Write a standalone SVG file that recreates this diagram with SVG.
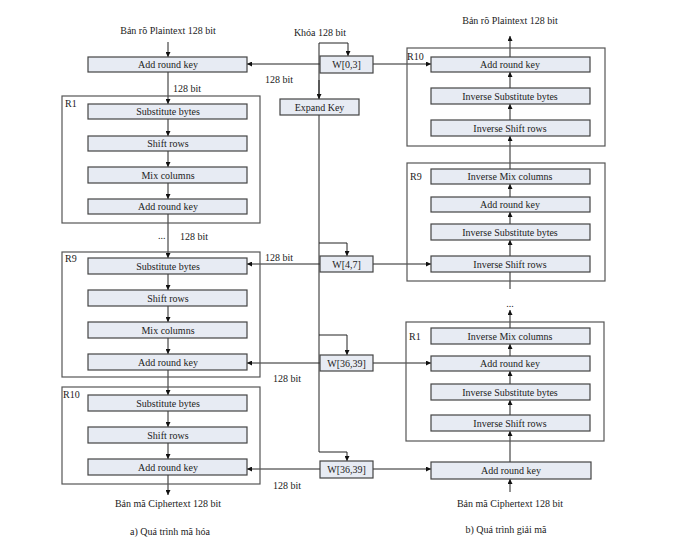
<svg xmlns="http://www.w3.org/2000/svg" width="698" height="546" viewBox="0 0 698 546">
<defs>
<marker id="ah" viewBox="0 0 10 10" refX="10" refY="5" markerWidth="5" markerHeight="5" markerUnits="userSpaceOnUse" orient="auto">
<path d="M0,0 L10,5 L0,10 z" fill="#111"/>
</marker>
</defs>
<style>
.bg{fill:#ffffff}
.box{fill:#e7ebf3;stroke:#444;stroke-width:1.2}
.cont{fill:none;stroke:#555;stroke-width:1.2}
.t{font-family:"Liberation Serif","Times New Roman",serif;font-size:10px;fill:#222;text-anchor:middle;dominant-baseline:central}
.l{font-family:"Liberation Serif","Times New Roman",serif;font-size:10px;fill:#222;dominant-baseline:central}
.c{fill:none;stroke:#222;stroke-width:1}
.a{fill:none;stroke:#222;stroke-width:1;marker-end:url(#ah)}
</style>
<rect class="bg" x="0" y="0" width="698" height="546"/>

<!-- Labels -->
<text class="t" x="168" y="30">Bản rõ Plaintext 128 bit</text>
<text class="t" x="320" y="32">Khóa 128 bit</text>
<text class="t" x="510" y="20">Bản rõ Plaintext 128 bit</text>
<text class="t" x="168" y="503">Bản mã Ciphertext 128 bit</text>
<text class="t" x="510" y="503">Bản mã Ciphertext 128 bit</text>
<text class="t" x="170" y="531">a) Quá trình mã hóa</text>
<text class="t" x="506" y="529">b) Quá trình giải mã</text>
<text class="l" x="265" y="79">128 bit</text>
<text class="l" x="173" y="88">128 bit</text>
<text class="l" x="158" y="235">...</text>
<text class="l" x="180" y="236">128 bit</text>
<text class="l" x="265" y="257">128 bit</text>
<text class="l" x="273" y="378">128 bit</text>
<text class="l" x="273" y="485">128 bit</text>
<text class="t" x="510" y="303">...</text>

<!-- Connectors -->
<g id="connectors">
<!-- encryption chain -->
<line class="a" x1="168" y1="42" x2="168" y2="57"/>
<line class="a" x1="168" y1="72" x2="168" y2="104"/>
<line class="a" x1="168" y1="119" x2="168" y2="136"/>
<line class="a" x1="168" y1="151" x2="168" y2="167"/>
<line class="a" x1="168" y1="183" x2="168" y2="199"/>
<line class="a" x1="168" y1="214" x2="168" y2="258"/>
<line class="a" x1="168" y1="274" x2="168" y2="290"/>
<line class="a" x1="168" y1="306" x2="168" y2="322"/>
<line class="a" x1="168" y1="338" x2="168" y2="354"/>
<line class="a" x1="168" y1="370" x2="168" y2="395"/>
<line class="a" x1="168" y1="411" x2="168" y2="427"/>
<line class="a" x1="168" y1="443" x2="168" y2="459"/>
<line class="a" x1="168" y1="475" x2="168" y2="495"/>
<!-- key trunk -->
<polyline class="c" points="319,43 319,452 347,452"/>
<line class="a" x1="347" y1="452" x2="347" y2="461"/>
<polyline class="c" points="319,43 348,43"/>
<line class="a" x1="348" y1="43" x2="348" y2="56"/>
<line class="a" x1="319" y1="80" x2="319" y2="99"/>
<polyline class="c" points="319,243 347,243"/>
<line class="a" x1="347" y1="243" x2="347" y2="256"/>
<polyline class="c" points="319,335 347,335"/>
<line class="a" x1="347" y1="335" x2="347" y2="355"/>
<!-- key to rounds -->
<line class="a" x1="320" y1="64" x2="247" y2="64"/>
<line class="a" x1="373" y1="64" x2="431" y2="64"/>
<line class="a" x1="320" y1="264" x2="247" y2="264"/>
<line class="a" x1="373" y1="264" x2="431" y2="264"/>
<line class="a" x1="320" y1="363" x2="247" y2="363"/>
<line class="a" x1="373" y1="363" x2="431" y2="363"/>
<line class="a" x1="320" y1="469" x2="247" y2="469"/>
<line class="a" x1="373" y1="469" x2="431" y2="469"/>
<!-- decryption chain -->
<line class="a" x1="510" y1="57" x2="510" y2="36"/>
<line class="a" x1="510" y1="88" x2="510" y2="72"/>
<line class="a" x1="510" y1="120" x2="510" y2="104"/>
<line class="a" x1="510" y1="169" x2="510" y2="136"/>
<line class="a" x1="510" y1="197" x2="510" y2="184"/>
<line class="a" x1="510" y1="224" x2="510" y2="212"/>
<line class="a" x1="510" y1="256" x2="510" y2="240"/>
<line class="c" x1="510" y1="272" x2="510" y2="289"/>
<line class="a" x1="510" y1="328" x2="510" y2="310"/>
<line class="a" x1="510" y1="356" x2="510" y2="344"/>
<line class="a" x1="510" y1="384" x2="510" y2="371"/>
<line class="a" x1="510" y1="415" x2="510" y2="400"/>
<line class="a" x1="510" y1="462" x2="510" y2="431"/>
<line class="a" x1="510" y1="492" x2="510" y2="479"/>
</g>

<!-- Encryption -->
<g id="enc-ark0"><rect class="box" x="88" y="57" width="159" height="15"/><text class="t" x="168" y="64.5">Add round key</text></g>
<g id="enc-r1">
<rect class="cont" x="62" y="96" width="198" height="127"/>
<text class="l" x="65" y="103">R1</text>
<rect class="box" x="88" y="104" width="159" height="15"/><text class="t" x="168" y="111.5">Substitute bytes</text>
<rect class="box" x="88" y="136" width="159" height="15"/><text class="t" x="168" y="143.5">Shift rows</text>
<rect class="box" x="88" y="167" width="159" height="16"/><text class="t" x="168" y="175">Mix columns</text>
<rect class="box" x="88" y="199" width="159" height="15"/><text class="t" x="168" y="206.5">Add round key</text>
</g>
<g id="enc-r9">
<rect class="cont" x="62" y="252" width="198" height="125"/>
<text class="l" x="65" y="258">R9</text>
<rect class="box" x="88" y="258" width="159" height="16"/><text class="t" x="168" y="266">Substitute bytes</text>
<rect class="box" x="88" y="290" width="159" height="16"/><text class="t" x="168" y="298">Shift rows</text>
<rect class="box" x="88" y="322" width="159" height="16"/><text class="t" x="168" y="330">Mix columns</text>
<rect class="box" x="88" y="354" width="159" height="16"/><text class="t" x="168" y="362">Add round key</text>
</g>
<g id="enc-r10">
<rect class="cont" x="62" y="387" width="198" height="97"/>
<text class="l" x="63" y="394">R10</text>
<rect class="box" x="88" y="395" width="159" height="16"/><text class="t" x="168" y="403">Substitute bytes</text>
<rect class="box" x="88" y="427" width="159" height="16"/><text class="t" x="168" y="435">Shift rows</text>
<rect class="box" x="88" y="459" width="159" height="16"/><text class="t" x="168" y="467">Add round key</text>
</g>

<!-- Key -->
<g id="w03"><rect class="box" x="320" y="56" width="53" height="17"/><text class="t" x="346.5" y="64.5">W[0,3]</text></g>
<g id="expand"><rect class="box" x="280" y="99" width="79" height="16"/><text class="t" x="319.5" y="107">Expand Key</text></g>
<g id="w47"><rect class="box" x="320" y="256" width="53" height="16"/><text class="t" x="346.5" y="264">W[4,7]</text></g>
<g id="w3639a"><rect class="box" x="320" y="355" width="53" height="16"/><text class="t" x="346.5" y="363">W[36,39]</text></g>
<g id="w3639b"><rect class="box" x="320" y="461" width="53" height="17"/><text class="t" x="346.5" y="469.5">W[36,39]</text></g>

<!-- Decryption -->
<g id="dec-r10">
<rect class="cont" x="407" y="48" width="198" height="98"/>
<text class="l" x="407" y="56">R10</text>
<rect class="box" x="431" y="57" width="159" height="15"/><text class="t" x="510" y="64.5">Add round key</text>
<rect class="box" x="431" y="88" width="159" height="16"/><text class="t" x="510" y="96">Inverse Substitute bytes</text>
<rect class="box" x="431" y="120" width="159" height="16"/><text class="t" x="510" y="128">Inverse Shift rows</text>
</g>
<g id="dec-r9">
<rect class="cont" x="407" y="163" width="198" height="118"/>
<text class="l" x="410" y="176">R9</text>
<rect class="box" x="431" y="169" width="159" height="15"/><text class="t" x="510" y="176.5">Inverse Mix columns</text>
<rect class="box" x="431" y="197" width="159" height="15"/><text class="t" x="510" y="204.5">Add round key</text>
<rect class="box" x="431" y="224" width="159" height="16"/><text class="t" x="510" y="232">Inverse Substitute bytes</text>
<rect class="box" x="431" y="256" width="159" height="16"/><text class="t" x="510" y="264">Inverse Shift rows</text>
</g>
<g id="dec-r1">
<rect class="cont" x="406" y="322" width="198" height="119"/>
<text class="l" x="409" y="336">R1</text>
<rect class="box" x="431" y="328" width="159" height="16"/><text class="t" x="510" y="336">Inverse Mix columns</text>
<rect class="box" x="431" y="356" width="159" height="15"/><text class="t" x="510" y="363.5">Add round key</text>
<rect class="box" x="431" y="384" width="159" height="16"/><text class="t" x="510" y="392">Inverse Substitute bytes</text>
<rect class="box" x="431" y="415" width="159" height="16"/><text class="t" x="510" y="423">Inverse Shift rows</text>
</g>
<g id="dec-ark"><rect class="box" x="431" y="462" width="160" height="17"/><text class="t" x="511" y="470.5">Add round key</text></g>
</svg>
